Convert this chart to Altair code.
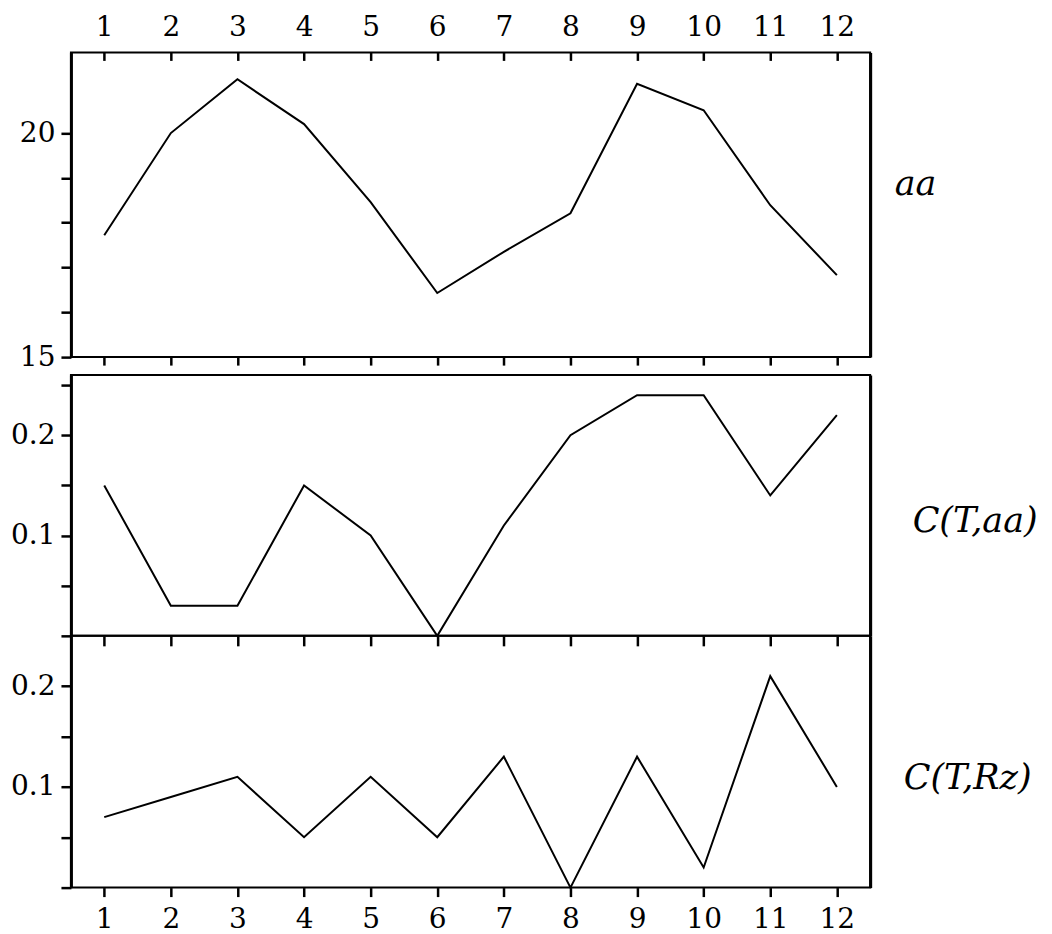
import altair as alt
import pandas as pd

# ---- data ----
months = list(range(1, 13))
aa_values = [17.72, 20.0, 21.2, 20.2, 18.46, 16.43, 17.35, 18.21, 21.1, 20.51, 18.39, 16.83]
c_t_aa_values = [0.15, 0.03, 0.03, 0.15, 0.10, 0.0, 0.11, 0.20, 0.24, 0.24, 0.14, 0.22]
c_t_rz_values = [0.07, 0.09, 0.11, 0.05, 0.11, 0.05, 0.13, 0.0, 0.13, 0.02, 0.21, 0.10]

x_ticks = months
aa_ticks = [15, 16, 17, 18, 19, 20]
aa_tick_labels = [15, 20]
c_aa_ticks = [0, 0.05, 0.1, 0.15, 0.2, 0.25]
c_rz_ticks = [0, 0.05, 0.1, 0.15, 0.2]
c_tick_labels = [0.1, 0.2]

panel_names = ["aa", "C(T,aa)", "C(T,Rz)"]

FONT = "DejaVu Serif"
TICK_FS = 28
NAME_FS = 35
W = 800
XSCALE = alt.Scale(domain=[0.5, 12.5], nice=False, zero=False)


def x_axis(orient, labels, offset=0, tick=8, pad=11):
    kw = dict(orient=orient, values=x_ticks, format="d", labels=labels,
              domain=False, ticks=True, tickSize=tick, tickWidth=2.5,
              tickColor="black", labelFont=FONT, labelFontSize=TICK_FS,
              labelColor="black", labelPadding=pad, labelFlush=False,
              labelOverlap=False, grid=False, title=None)
    if offset:
        kw["offset"] = offset
    return alt.Axis(**kw)


def panel(values, name, domain, yticks, ylabels, fmt, height,
          xaxis_main, xaxis_extra, title_x, title_y):
    df = pd.DataFrame({"month": months, "value": values})
    yscale = alt.Scale(domain=domain, nice=False, zero=False)
    test = " || ".join(f"datum.value == {v}" for v in ylabels)
    left_axis = alt.Axis(
        orient="left", values=yticks, format=fmt,
        labelExpr=f"({test}) ? datum.label : ''",
        tickSize=10, tickWidth=2.5, tickColor="black",
        domain=True, domainColor="black", domainWidth=3,
        labelFont=FONT, labelFontSize=TICK_FS, labelColor="black",
        labelPadding=6, labelOverlap=False, labelFlush=False,
        grid=False, title=None)
    right_axis = alt.Axis(
        orient="right", ticks=False, labels=False, grid=False,
        domain=True, domainColor="black", domainWidth=3,
        title=name, titleFont=FONT, titleFontSize=NAME_FS,
        titleFontStyle="italic", titleFontWeight="normal",
        titleColor="black", titleAngle=0, titleAlign="left",
        titleBaseline="alphabetic", titleX=title_x, titleY=title_y)
    base = alt.Chart(df)
    line = base.mark_line(color="black", strokeWidth=2).encode(
        x=alt.X("month:Q", scale=XSCALE, axis=xaxis_main),
        y=alt.Y("value:Q", scale=yscale, axis=left_axis),
    )
    ghost = base.mark_line(opacity=0).encode(
        x=alt.X("month:Q", scale=XSCALE, axis=xaxis_extra),
        y=alt.Y("value:Q", scale=yscale, axis=right_axis),
    )
    return (alt.layer(line, ghost)
            .resolve_axis(x="independent", y="independent")
            .properties(width=W, height=height))


top = panel(aa_values, panel_names[0], [15, 21.8], aa_ticks, aa_tick_labels,
            "d", 305,
            x_axis("top", True, offset=-8, tick=8, pad=11),
            x_axis("bottom", False, tick=8),
            24, 142)

mid = panel(c_t_aa_values, panel_names[1], [0, 0.26], c_aa_ticks,
            c_tick_labels, ".1f", 261,
            x_axis("bottom", False, tick=10),
            None,
            42, 157)

bot = panel(c_t_rz_values, panel_names[2], [0, 0.25], c_rz_ticks,
            c_tick_labels, ".1f", 252,
            x_axis("bottom", True, tick=9, pad=9),
            None,
            33, 153)

inner = alt.vconcat(mid, bot, spacing=0, bounds="flush")
chart = (
    alt.vconcat(top, inner, spacing=18, bounds="flush")
    .properties(padding={"left": 1, "top": 4, "right": 5, "bottom": 0},
                background="white")
    .configure(font=FONT)
    .configure_view(stroke="black", strokeWidth=2)
)

chart.save("out.html", embed_options={"renderer": "svg", "actions": False})
